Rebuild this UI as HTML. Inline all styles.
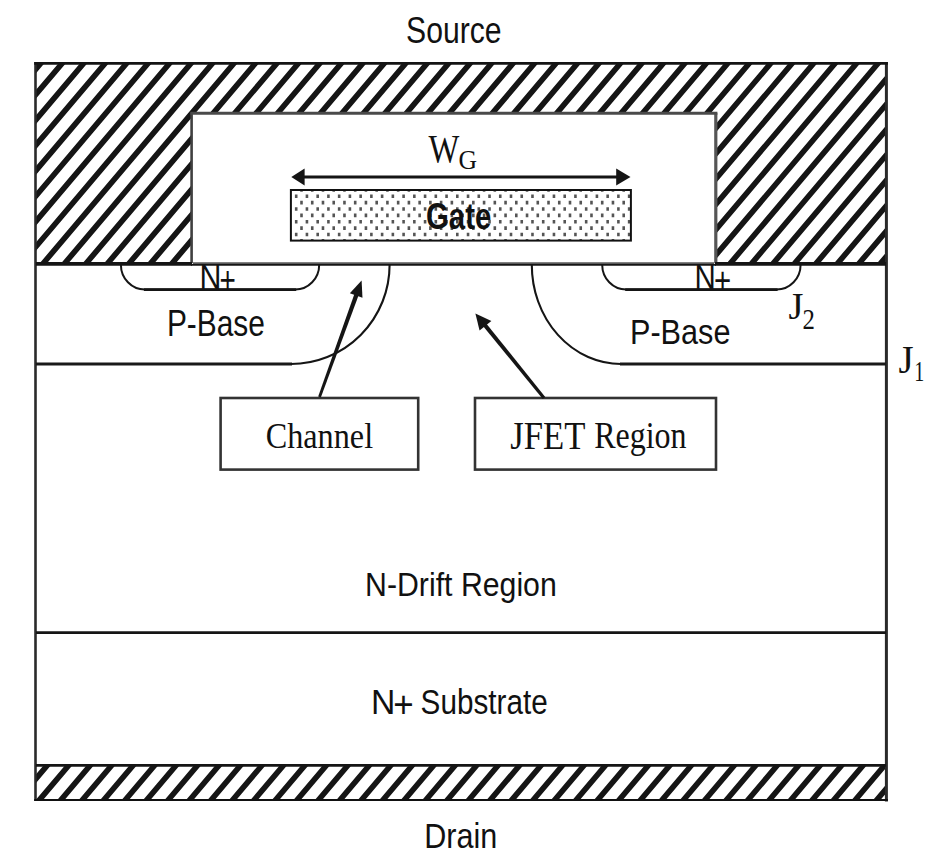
<!DOCTYPE html><html><head><meta charset="utf-8"><style>html,body{margin:0;padding:0;background:#fff;overflow:hidden}svg{display:block}</style></head><body><svg width="945" height="859" viewBox="0 0 945 859">
<defs>
<clipPath id="ctop"><path clip-rule="evenodd" d="M35 62H887V264H35Z M191.6 113.2H715.8V265H191.6Z"/></clipPath>
<clipPath id="cdrain"><rect x="35" y="764" width="852" height="37"/></clipPath>
<clipPath id="cgate"><rect x="291.5" y="190.5" width="339" height="50"/></clipPath>
</defs>
<rect width="945" height="859" fill="#fff"/>
<path clip-path="url(#ctop)" d="M-14.12 52.00L-202.78 275.00M7.35 52.00L-181.31 275.00M28.82 52.00L-159.84 275.00M50.29 52.00L-138.37 275.00M71.76 52.00L-116.90 275.00M93.23 52.00L-95.43 275.00M114.70 52.00L-73.96 275.00M136.17 52.00L-52.49 275.00M157.64 52.00L-31.02 275.00M179.11 52.00L-9.55 275.00M200.58 52.00L11.92 275.00M222.05 52.00L33.39 275.00M243.52 52.00L54.86 275.00M264.99 52.00L76.33 275.00M286.46 52.00L97.80 275.00M307.93 52.00L119.27 275.00M329.40 52.00L140.74 275.00M350.87 52.00L162.21 275.00M372.34 52.00L183.68 275.00M393.81 52.00L205.15 275.00M415.28 52.00L226.62 275.00M436.75 52.00L248.09 275.00M458.22 52.00L269.56 275.00M479.69 52.00L291.03 275.00M501.16 52.00L312.50 275.00M522.63 52.00L333.97 275.00M544.10 52.00L355.44 275.00M565.57 52.00L376.91 275.00M587.04 52.00L398.38 275.00M608.51 52.00L419.85 275.00M629.98 52.00L441.32 275.00M651.45 52.00L462.79 275.00M672.92 52.00L484.26 275.00M694.39 52.00L505.73 275.00M715.86 52.00L527.20 275.00M737.33 52.00L548.67 275.00M758.80 52.00L570.14 275.00M780.27 52.00L591.61 275.00M801.74 52.00L613.08 275.00M823.21 52.00L634.55 275.00M844.68 52.00L656.02 275.00M866.15 52.00L677.49 275.00M887.62 52.00L698.96 275.00M909.09 52.00L720.43 275.00M930.56 52.00L741.90 275.00M952.03 52.00L763.37 275.00M973.50 52.00L784.84 275.00M994.97 52.00L806.31 275.00M1016.44 52.00L827.78 275.00M1037.91 52.00L849.25 275.00M1059.38 52.00L870.72 275.00M1080.85 52.00L892.19 275.00M1102.32 52.00L913.66 275.00M1123.79 52.00L935.13 275.00" stroke="#151515" stroke-width="5.6" fill="none"/>
<path clip-path="url(#cdrain)" d="M-7.55 754.00L-55.78 811.00M13.92 754.00L-34.31 811.00M35.39 754.00L-12.84 811.00M56.86 754.00L8.63 811.00M78.33 754.00L30.10 811.00M99.80 754.00L51.57 811.00M121.27 754.00L73.04 811.00M142.74 754.00L94.51 811.00M164.21 754.00L115.98 811.00M185.68 754.00L137.45 811.00M207.15 754.00L158.92 811.00M228.62 754.00L180.39 811.00M250.09 754.00L201.86 811.00M271.56 754.00L223.33 811.00M293.03 754.00L244.80 811.00M314.50 754.00L266.27 811.00M335.97 754.00L287.74 811.00M357.44 754.00L309.21 811.00M378.91 754.00L330.68 811.00M400.38 754.00L352.15 811.00M421.85 754.00L373.62 811.00M443.32 754.00L395.09 811.00M464.79 754.00L416.56 811.00M486.26 754.00L438.03 811.00M507.73 754.00L459.50 811.00M529.20 754.00L480.97 811.00M550.67 754.00L502.44 811.00M572.14 754.00L523.91 811.00M593.61 754.00L545.38 811.00M615.08 754.00L566.85 811.00M636.55 754.00L588.32 811.00M658.02 754.00L609.79 811.00M679.49 754.00L631.26 811.00M700.96 754.00L652.73 811.00M722.43 754.00L674.20 811.00M743.90 754.00L695.67 811.00M765.37 754.00L717.14 811.00M786.84 754.00L738.61 811.00M808.31 754.00L760.08 811.00M829.78 754.00L781.55 811.00M851.25 754.00L803.02 811.00M872.72 754.00L824.49 811.00M894.19 754.00L845.96 811.00M915.66 754.00L867.43 811.00M937.13 754.00L888.90 811.00M958.60 754.00L910.37 811.00M980.07 754.00L931.84 811.00" stroke="#151515" stroke-width="5.6" fill="none"/>
<path clip-path="url(#cgate)" d="M294.90 194.45H297.50V198.05H294.90zM305.64 194.45H308.24V198.05H305.64zM316.38 194.45H318.98V198.05H316.38zM327.12 194.45H329.72V198.05H327.12zM337.86 194.45H340.46V198.05H337.86zM348.60 194.45H351.20V198.05H348.60zM359.34 194.45H361.94V198.05H359.34zM370.08 194.45H372.68V198.05H370.08zM380.82 194.45H383.42V198.05H380.82zM391.56 194.45H394.16V198.05H391.56zM402.30 194.45H404.90V198.05H402.30zM413.04 194.45H415.64V198.05H413.04zM423.78 194.45H426.38V198.05H423.78zM434.52 194.45H437.12V198.05H434.52zM445.26 194.45H447.86V198.05H445.26zM456.00 194.45H458.60V198.05H456.00zM466.74 194.45H469.34V198.05H466.74zM477.48 194.45H480.08V198.05H477.48zM488.22 194.45H490.82V198.05H488.22zM498.96 194.45H501.56V198.05H498.96zM509.70 194.45H512.30V198.05H509.70zM520.44 194.45H523.04V198.05H520.44zM531.18 194.45H533.78V198.05H531.18zM541.92 194.45H544.52V198.05H541.92zM552.66 194.45H555.26V198.05H552.66zM563.40 194.45H566.00V198.05H563.40zM574.14 194.45H576.74V198.05H574.14zM584.88 194.45H587.48V198.05H584.88zM595.62 194.45H598.22V198.05H595.62zM606.36 194.45H608.96V198.05H606.36zM617.10 194.45H619.70V198.05H617.10zM627.84 194.45H630.44V198.05H627.84zM300.20 188.10H302.80V191.70H300.20zM310.94 188.10H313.54V191.70H310.94zM321.68 188.10H324.28V191.70H321.68zM332.42 188.10H335.02V191.70H332.42zM343.16 188.10H345.76V191.70H343.16zM353.90 188.10H356.50V191.70H353.90zM364.64 188.10H367.24V191.70H364.64zM375.38 188.10H377.98V191.70H375.38zM386.12 188.10H388.72V191.70H386.12zM396.86 188.10H399.46V191.70H396.86zM407.60 188.10H410.20V191.70H407.60zM418.34 188.10H420.94V191.70H418.34zM429.08 188.10H431.68V191.70H429.08zM439.82 188.10H442.42V191.70H439.82zM450.56 188.10H453.16V191.70H450.56zM461.30 188.10H463.90V191.70H461.30zM472.04 188.10H474.64V191.70H472.04zM482.78 188.10H485.38V191.70H482.78zM493.52 188.10H496.12V191.70H493.52zM504.26 188.10H506.86V191.70H504.26zM515.00 188.10H517.60V191.70H515.00zM525.74 188.10H528.34V191.70H525.74zM536.48 188.10H539.08V191.70H536.48zM547.22 188.10H549.82V191.70H547.22zM557.96 188.10H560.56V191.70H557.96zM568.70 188.10H571.30V191.70H568.70zM579.44 188.10H582.04V191.70H579.44zM590.18 188.10H592.78V191.70H590.18zM600.92 188.10H603.52V191.70H600.92zM611.66 188.10H614.26V191.70H611.66zM622.40 188.10H625.00V191.70H622.40zM294.90 207.20H297.50V210.80H294.90zM305.64 207.20H308.24V210.80H305.64zM316.38 207.20H318.98V210.80H316.38zM327.12 207.20H329.72V210.80H327.12zM337.86 207.20H340.46V210.80H337.86zM348.60 207.20H351.20V210.80H348.60zM359.34 207.20H361.94V210.80H359.34zM370.08 207.20H372.68V210.80H370.08zM380.82 207.20H383.42V210.80H380.82zM391.56 207.20H394.16V210.80H391.56zM402.30 207.20H404.90V210.80H402.30zM413.04 207.20H415.64V210.80H413.04zM423.78 207.20H426.38V210.80H423.78zM434.52 207.20H437.12V210.80H434.52zM445.26 207.20H447.86V210.80H445.26zM456.00 207.20H458.60V210.80H456.00zM466.74 207.20H469.34V210.80H466.74zM477.48 207.20H480.08V210.80H477.48zM488.22 207.20H490.82V210.80H488.22zM498.96 207.20H501.56V210.80H498.96zM509.70 207.20H512.30V210.80H509.70zM520.44 207.20H523.04V210.80H520.44zM531.18 207.20H533.78V210.80H531.18zM541.92 207.20H544.52V210.80H541.92zM552.66 207.20H555.26V210.80H552.66zM563.40 207.20H566.00V210.80H563.40zM574.14 207.20H576.74V210.80H574.14zM584.88 207.20H587.48V210.80H584.88zM595.62 207.20H598.22V210.80H595.62zM606.36 207.20H608.96V210.80H606.36zM617.10 207.20H619.70V210.80H617.10zM627.84 207.20H630.44V210.80H627.84zM300.20 200.85H302.80V204.45H300.20zM310.94 200.85H313.54V204.45H310.94zM321.68 200.85H324.28V204.45H321.68zM332.42 200.85H335.02V204.45H332.42zM343.16 200.85H345.76V204.45H343.16zM353.90 200.85H356.50V204.45H353.90zM364.64 200.85H367.24V204.45H364.64zM375.38 200.85H377.98V204.45H375.38zM386.12 200.85H388.72V204.45H386.12zM396.86 200.85H399.46V204.45H396.86zM407.60 200.85H410.20V204.45H407.60zM418.34 200.85H420.94V204.45H418.34zM429.08 200.85H431.68V204.45H429.08zM439.82 200.85H442.42V204.45H439.82zM450.56 200.85H453.16V204.45H450.56zM461.30 200.85H463.90V204.45H461.30zM472.04 200.85H474.64V204.45H472.04zM482.78 200.85H485.38V204.45H482.78zM493.52 200.85H496.12V204.45H493.52zM504.26 200.85H506.86V204.45H504.26zM515.00 200.85H517.60V204.45H515.00zM525.74 200.85H528.34V204.45H525.74zM536.48 200.85H539.08V204.45H536.48zM547.22 200.85H549.82V204.45H547.22zM557.96 200.85H560.56V204.45H557.96zM568.70 200.85H571.30V204.45H568.70zM579.44 200.85H582.04V204.45H579.44zM590.18 200.85H592.78V204.45H590.18zM600.92 200.85H603.52V204.45H600.92zM611.66 200.85H614.26V204.45H611.66zM622.40 200.85H625.00V204.45H622.40zM294.90 219.95H297.50V223.55H294.90zM305.64 219.95H308.24V223.55H305.64zM316.38 219.95H318.98V223.55H316.38zM327.12 219.95H329.72V223.55H327.12zM337.86 219.95H340.46V223.55H337.86zM348.60 219.95H351.20V223.55H348.60zM359.34 219.95H361.94V223.55H359.34zM370.08 219.95H372.68V223.55H370.08zM380.82 219.95H383.42V223.55H380.82zM391.56 219.95H394.16V223.55H391.56zM402.30 219.95H404.90V223.55H402.30zM413.04 219.95H415.64V223.55H413.04zM423.78 219.95H426.38V223.55H423.78zM434.52 219.95H437.12V223.55H434.52zM445.26 219.95H447.86V223.55H445.26zM456.00 219.95H458.60V223.55H456.00zM466.74 219.95H469.34V223.55H466.74zM477.48 219.95H480.08V223.55H477.48zM488.22 219.95H490.82V223.55H488.22zM498.96 219.95H501.56V223.55H498.96zM509.70 219.95H512.30V223.55H509.70zM520.44 219.95H523.04V223.55H520.44zM531.18 219.95H533.78V223.55H531.18zM541.92 219.95H544.52V223.55H541.92zM552.66 219.95H555.26V223.55H552.66zM563.40 219.95H566.00V223.55H563.40zM574.14 219.95H576.74V223.55H574.14zM584.88 219.95H587.48V223.55H584.88zM595.62 219.95H598.22V223.55H595.62zM606.36 219.95H608.96V223.55H606.36zM617.10 219.95H619.70V223.55H617.10zM627.84 219.95H630.44V223.55H627.84zM300.20 213.60H302.80V217.20H300.20zM310.94 213.60H313.54V217.20H310.94zM321.68 213.60H324.28V217.20H321.68zM332.42 213.60H335.02V217.20H332.42zM343.16 213.60H345.76V217.20H343.16zM353.90 213.60H356.50V217.20H353.90zM364.64 213.60H367.24V217.20H364.64zM375.38 213.60H377.98V217.20H375.38zM386.12 213.60H388.72V217.20H386.12zM396.86 213.60H399.46V217.20H396.86zM407.60 213.60H410.20V217.20H407.60zM418.34 213.60H420.94V217.20H418.34zM429.08 213.60H431.68V217.20H429.08zM439.82 213.60H442.42V217.20H439.82zM450.56 213.60H453.16V217.20H450.56zM461.30 213.60H463.90V217.20H461.30zM472.04 213.60H474.64V217.20H472.04zM482.78 213.60H485.38V217.20H482.78zM493.52 213.60H496.12V217.20H493.52zM504.26 213.60H506.86V217.20H504.26zM515.00 213.60H517.60V217.20H515.00zM525.74 213.60H528.34V217.20H525.74zM536.48 213.60H539.08V217.20H536.48zM547.22 213.60H549.82V217.20H547.22zM557.96 213.60H560.56V217.20H557.96zM568.70 213.60H571.30V217.20H568.70zM579.44 213.60H582.04V217.20H579.44zM590.18 213.60H592.78V217.20H590.18zM600.92 213.60H603.52V217.20H600.92zM611.66 213.60H614.26V217.20H611.66zM622.40 213.60H625.00V217.20H622.40zM294.90 232.70H297.50V236.30H294.90zM305.64 232.70H308.24V236.30H305.64zM316.38 232.70H318.98V236.30H316.38zM327.12 232.70H329.72V236.30H327.12zM337.86 232.70H340.46V236.30H337.86zM348.60 232.70H351.20V236.30H348.60zM359.34 232.70H361.94V236.30H359.34zM370.08 232.70H372.68V236.30H370.08zM380.82 232.70H383.42V236.30H380.82zM391.56 232.70H394.16V236.30H391.56zM402.30 232.70H404.90V236.30H402.30zM413.04 232.70H415.64V236.30H413.04zM423.78 232.70H426.38V236.30H423.78zM434.52 232.70H437.12V236.30H434.52zM445.26 232.70H447.86V236.30H445.26zM456.00 232.70H458.60V236.30H456.00zM466.74 232.70H469.34V236.30H466.74zM477.48 232.70H480.08V236.30H477.48zM488.22 232.70H490.82V236.30H488.22zM498.96 232.70H501.56V236.30H498.96zM509.70 232.70H512.30V236.30H509.70zM520.44 232.70H523.04V236.30H520.44zM531.18 232.70H533.78V236.30H531.18zM541.92 232.70H544.52V236.30H541.92zM552.66 232.70H555.26V236.30H552.66zM563.40 232.70H566.00V236.30H563.40zM574.14 232.70H576.74V236.30H574.14zM584.88 232.70H587.48V236.30H584.88zM595.62 232.70H598.22V236.30H595.62zM606.36 232.70H608.96V236.30H606.36zM617.10 232.70H619.70V236.30H617.10zM627.84 232.70H630.44V236.30H627.84zM300.20 226.35H302.80V229.95H300.20zM310.94 226.35H313.54V229.95H310.94zM321.68 226.35H324.28V229.95H321.68zM332.42 226.35H335.02V229.95H332.42zM343.16 226.35H345.76V229.95H343.16zM353.90 226.35H356.50V229.95H353.90zM364.64 226.35H367.24V229.95H364.64zM375.38 226.35H377.98V229.95H375.38zM386.12 226.35H388.72V229.95H386.12zM396.86 226.35H399.46V229.95H396.86zM407.60 226.35H410.20V229.95H407.60zM418.34 226.35H420.94V229.95H418.34zM429.08 226.35H431.68V229.95H429.08zM439.82 226.35H442.42V229.95H439.82zM450.56 226.35H453.16V229.95H450.56zM461.30 226.35H463.90V229.95H461.30zM472.04 226.35H474.64V229.95H472.04zM482.78 226.35H485.38V229.95H482.78zM493.52 226.35H496.12V229.95H493.52zM504.26 226.35H506.86V229.95H504.26zM515.00 226.35H517.60V229.95H515.00zM525.74 226.35H528.34V229.95H525.74zM536.48 226.35H539.08V229.95H536.48zM547.22 226.35H549.82V229.95H547.22zM557.96 226.35H560.56V229.95H557.96zM568.70 226.35H571.30V229.95H568.70zM579.44 226.35H582.04V229.95H579.44zM590.18 226.35H592.78V229.95H590.18zM600.92 226.35H603.52V229.95H600.92zM611.66 226.35H614.26V229.95H611.66zM622.40 226.35H625.00V229.95H622.40zM300.20 239.10H302.80V242.70H300.20zM310.94 239.10H313.54V242.70H310.94zM321.68 239.10H324.28V242.70H321.68zM332.42 239.10H335.02V242.70H332.42zM343.16 239.10H345.76V242.70H343.16zM353.90 239.10H356.50V242.70H353.90zM364.64 239.10H367.24V242.70H364.64zM375.38 239.10H377.98V242.70H375.38zM386.12 239.10H388.72V242.70H386.12zM396.86 239.10H399.46V242.70H396.86zM407.60 239.10H410.20V242.70H407.60zM418.34 239.10H420.94V242.70H418.34zM429.08 239.10H431.68V242.70H429.08zM439.82 239.10H442.42V242.70H439.82zM450.56 239.10H453.16V242.70H450.56zM461.30 239.10H463.90V242.70H461.30zM472.04 239.10H474.64V242.70H472.04zM482.78 239.10H485.38V242.70H482.78zM493.52 239.10H496.12V242.70H493.52zM504.26 239.10H506.86V242.70H504.26zM515.00 239.10H517.60V242.70H515.00zM525.74 239.10H528.34V242.70H525.74zM536.48 239.10H539.08V242.70H536.48zM547.22 239.10H549.82V242.70H547.22zM557.96 239.10H560.56V242.70H557.96zM568.70 239.10H571.30V242.70H568.70zM579.44 239.10H582.04V242.70H579.44zM590.18 239.10H592.78V242.70H590.18zM600.92 239.10H603.52V242.70H600.92zM611.66 239.10H614.26V242.70H611.66zM622.40 239.10H625.00V242.70H622.40z" fill="#555"/>
<text transform="matrix(0.30130 0 0 0.37465 406.093 43.225)" font-family='"Liberation Sans", sans-serif' font-weight="400" font-size="100" fill="#111">Source</text>
<text transform="matrix(0.32660 0 0 0.39254 428.600 161.815)" font-family='"Liberation Serif", serif' font-weight="400" font-size="100" fill="#111">W</text>
<text transform="matrix(0.25692 0 0 0.28209 458.572 169.136)" font-family='"Liberation Serif", serif' font-weight="400" font-size="100" fill="#111">G</text>
<text transform="matrix(0.29349 0 0 0.36479 426.026 228.535)" font-family='"Liberation Sans", sans-serif' font-weight="700" font-size="100" fill="#111">Gate</text>
<text transform="matrix(0.29905 0 0 0.36429 166.908 336.136)" font-family='"Liberation Sans", sans-serif' font-weight="400" font-size="100" fill="#111">P-Base</text>
<text transform="matrix(0.30667 0 0 0.35286 629.947 344.047)" font-family='"Liberation Sans", sans-serif' font-weight="400" font-size="100" fill="#111">P-Base</text>
<text transform="matrix(0.38286 0 0 0.37273 788.534 318.527)" font-family='"Liberation Serif", serif' font-weight="400" font-size="100" fill="#111">J</text>
<text transform="matrix(0.24750 0 0 0.29692 802.410 328.900)" font-family='"Liberation Serif", serif' font-weight="400" font-size="100" fill="#111">2</text>
<text transform="matrix(0.38857 0 0 0.39091 898.523 372.609)" font-family='"Liberation Serif", serif' font-weight="400" font-size="100" fill="#111">J</text>
<text transform="matrix(0.20000 0 0 0.29091 914.300 381.400)" font-family='"Liberation Serif", serif' font-weight="400" font-size="100" fill="#111">1</text>
<text transform="matrix(0.32232 0 0 0.36761 265.711 448.265)" font-family='"Liberation Serif", serif' font-weight="400" font-size="100" fill="#111">Channel</text>
<text transform="matrix(0.34695 0 0 0.39242 510.306 448.608)" font-family='"Liberation Serif", serif' font-weight="400" font-size="100" fill="#111">JFET</text>
<text transform="matrix(0.32007 0 0 0.38488 594.140 448.117)" font-family='"Liberation Serif", serif' font-weight="400" font-size="100" fill="#111">Region</text>
<text transform="matrix(0.30275 0 0 0.33936 365.078 595.573)" font-family='"Liberation Sans", sans-serif' font-weight="400" font-size="100" fill="#111">N-Drift Region</text>
<text transform="matrix(0.33750 0 0 0.35942 370.900 713.700)" font-family='"Liberation Sans", sans-serif' font-weight="400" font-size="100" fill="#111">N</text>
<text transform="matrix(0.35000 0 0 0.36939 393.350 717.024)" font-family='"Liberation Sans", sans-serif' font-weight="400" font-size="100" fill="#111">+</text>
<text transform="matrix(0.29690 0 0 0.34730 420.616 713.653)" font-family='"Liberation Sans", sans-serif' font-weight="400" font-size="100" fill="#111">Substrate</text>
<text transform="matrix(0.30580 0 0 0.34865 424.254 847.651)" font-family='"Liberation Sans", sans-serif' font-weight="400" font-size="100" fill="#111">Drain</text>
<text transform="matrix(0.30357 0 0 0.35507 199.571 289.000)" font-family='"Liberation Sans", sans-serif' font-weight="400" font-size="100" fill="#111">N</text>
<text transform="matrix(0.27917 0 0 0.37959 219.604 292.616)" font-family='"Liberation Sans", sans-serif' font-weight="400" font-size="100" fill="#111">+</text>
<text transform="matrix(0.29464 0 0 0.35507 694.443 289.000)" font-family='"Liberation Sans", sans-serif' font-weight="400" font-size="100" fill="#111">N</text>
<text transform="matrix(0.29375 0 0 0.36327 714.031 293.469)" font-family='"Liberation Sans", sans-serif' font-weight="400" font-size="100" fill="#111">+</text>
<path d="M35.5 62V801" stroke="#2a2a2a" stroke-width="2.6"/>
<path d="M886.4 62V801.5" stroke="#2a2a2a" stroke-width="3"/>
<path d="M34.2 63.4H887.9" stroke="#141414" stroke-width="2.8"/>
<path d="M34.2 799.9H887.9" stroke="#111" stroke-width="2"/>
<path d="M191.6 263V113.2" stroke="#404040" stroke-width="2.6"/>
<path d="M715.8 263V113.2" stroke="#555" stroke-width="3.2"/>
<path d="M190.3 113.2H717.4" stroke="#4a4a4a" stroke-width="3"/>
<path d="M192.9 263.15H714.2" stroke="#5a5a5a" stroke-width="1.9"/>
<path d="M36 263.9H192M715 263.9H886" stroke="#151515" stroke-width="3.6"/>
<path d="M191 264.85H716" stroke="#151515" stroke-width="1.7"/>
<path d="M120.9 264.7A24 24.8 0 0 0 144.9 289.5H295.2A24 24.8 0 0 0 319.2 264.7" fill="none" stroke="#151515" stroke-width="2"/>
<path d="M143.9 289.6H296.2" stroke="#151515" stroke-width="2.6"/>
<path d="M602.2 264.7A24 24.8 0 0 0 626.2 289.5H776.6A24 24.8 0 0 0 800.6 264.7" fill="none" stroke="#151515" stroke-width="2"/>
<path d="M625.2 289.6H777.6" stroke="#151515" stroke-width="2.6"/>
<path d="M36 364H292" stroke="#1a1a1a" stroke-width="3.2"/>
<path d="M291 364A98.6 99.3 0 0 0 389.6 264.7" fill="none" stroke="#151515" stroke-width="2.1"/>
<path d="M531.8 264.7A89.2 99.3 0 0 0 621 364" fill="none" stroke="#151515" stroke-width="2.1"/>
<path d="M620 364H886" stroke="#1a1a1a" stroke-width="3.2"/>
<path d="M36 632.6H886" stroke="#151515" stroke-width="2.6"/>
<path d="M36 765.4H886" stroke="#151515" stroke-width="2.8"/>
<rect x="290.9" y="190" width="340" height="50.6" fill="none" stroke="#111" stroke-width="2"/>
<path d="M303 177H618" stroke="#151515" stroke-width="3"/>
<path d="M291.3 177L304.6 168.5V185.5Z" fill="#151515"/>
<path d="M630.5 177L616.2 168.5V185.5Z" fill="#151515"/>
<rect x="220.6" y="398" width="197.6" height="71.6" fill="none" stroke="#333" stroke-width="2.6"/>
<rect x="475" y="398" width="241" height="71.6" fill="none" stroke="#333" stroke-width="2.6"/>
<path d="M320.82 397.48L359.25 293.47L355.11 291.98L318.18 396.52Z" fill="#151515"/><path d="M361.60 280.50L362.46 297.82L349.86 293.27Z" fill="#151515"/>
<path d="M545.24 396.99L485.22 322.17L481.96 324.82L542.76 399.01Z" fill="#151515"/><path d="M475.40 313.40L491.38 321.04L479.57 330.61Z" fill="#151515"/>
</svg></body></html>
